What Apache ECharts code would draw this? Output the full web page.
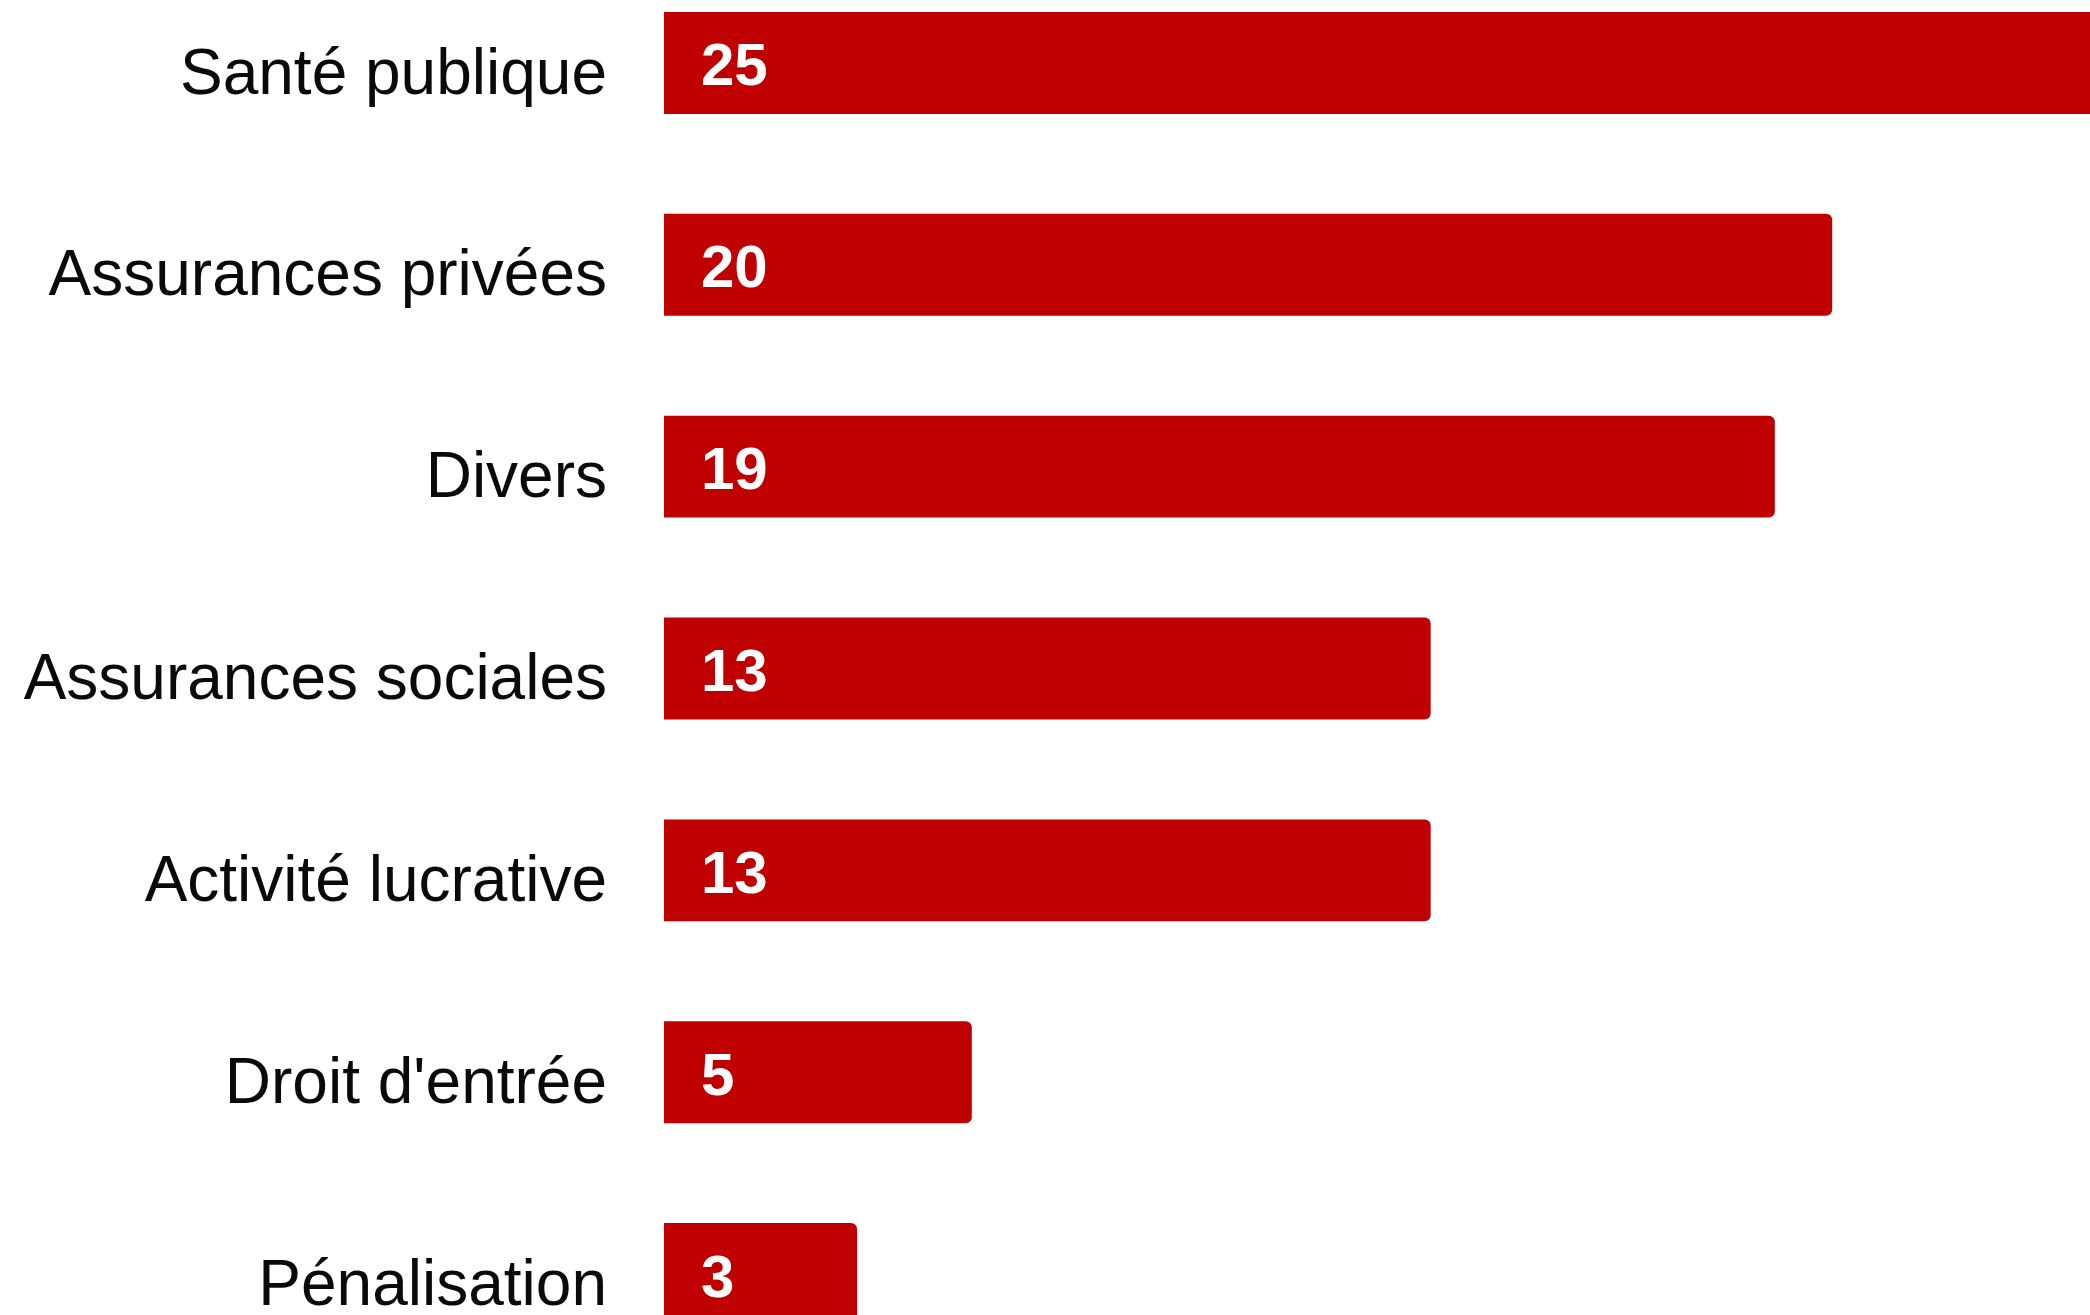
<!DOCTYPE html>
<html>
<head>
<meta charset="utf-8">
<script src="https://cdn.jsdelivr.net/npm/echarts@6/dist/echarts.min.js"></script>
<style>
html,body{margin:0;padding:0;background:#fff;}
#chart{width:2090px;height:1315px;}
</style>
</head>
<body>
<div id="chart"></div>
<script>
const categories = ['Santé publique','Assurances privées','Divers','Assurances sociales','Activité lucrative',"Droit d'entrée",'Pénalisation'];
const values = [25,20,19,13,13,5,3];

const BAR_COLOR = '#C00000';
const LEAD = 21;        // bar starts this many px before zero
const LABEL_PAD = 37;   // value label offset from bar start

const chart = echarts.init(document.getElementById('chart'), null, {renderer:'canvas'});
chart.setOption({
  backgroundColor:'#ffffff',
  animation:false,
  grid:{left:685, top:-38, width:1434, height:1413, containLabel:false, outerBoundsMode:'none'},
  xAxis:{type:'value', min:0, max:25, show:false},
  yAxis:{
    type:'category', data:categories, inverse:true,
    axisLine:{show:false}, axisTick:{show:false}, splitLine:{show:false},
    axisLabel:{
      margin:78, fontSize:64, color:'#0a0a0a',
      fontFamily:'"Liberation Sans", Arial, sans-serif',
      verticalAlign:'top', lineHeight:26
    }
  },
  series:[{
    type:'custom',
    clip:false,
    data: values.map((v,i)=>[v,i]),
    encode:{x:0, y:1},
    renderItem:function(params, api){
      const v = api.value(0);
      const c = api.value(1);
      const end = api.coord([v, c]);
      const start = api.coord([0, c]);
      const band = api.size([0,1])[1];
      const h = band*0.505;
      const x0 = start[0]-LEAD;
      return {
        type:'group',
        children:[
          {type:'rect', shape:{x:x0, y:end[1]-h/2, width:end[0]-x0, height:h, r:[0,6,6,0]}, style:{fill:BAR_COLOR}},
          {type:'text', style:{text:String(v), x:x0+LABEL_PAD, y:end[1]+6, textAlign:'left', textVerticalAlign:'middle',
            fill:'#ffffff', font:'bold 60px "Liberation Sans", Arial, sans-serif'}}
        ]
      };
    }
  }]
});
</script>
</body>
</html>
